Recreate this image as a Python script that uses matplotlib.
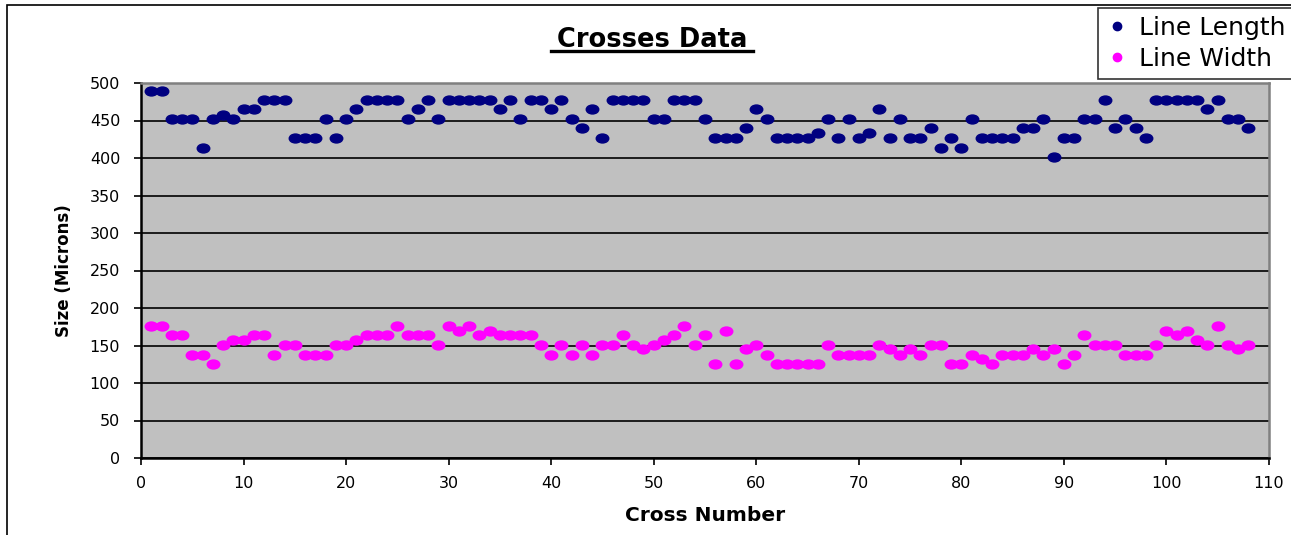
import matplotlib
matplotlib.use('Agg')
import matplotlib.pyplot as plt
from matplotlib.path import Path
from matplotlib.transforms import Affine2D
from matplotlib.patches import Rectangle

# Data
cross_number = list(range(1, 109))
line_length = [490, 490, 452, 452, 452, 414, 452, 458, 452, 465,
               465, 478, 478, 478, 427, 427, 427, 452, 427, 452,
               465, 478, 478, 478, 478, 452, 465, 478, 452, 478,
               478, 478, 478, 478, 465, 478, 452, 478, 478, 465,
               478, 452, 440, 465, 427, 478, 478, 478, 478, 452,
               452, 478, 478, 478, 452, 427, 427, 427, 440, 465,
               452, 427, 427, 427, 427, 433, 452, 427, 452, 427,
               433, 465, 427, 452, 427, 427, 440, 414, 427, 414,
               452, 427, 427, 427, 427, 440, 440, 452, 402, 427,
               427, 452, 452, 478, 440, 452, 440, 427, 478, 478,
               478, 478, 478, 465, 478, 452, 452, 440]
line_width = [176, 176, 164, 164, 138, 138, 126, 151, 157, 157,
              164, 164, 138, 151, 151, 138, 138, 138, 151, 151,
              157, 164, 164, 164, 176, 164, 164, 164, 151, 176,
              170, 176, 164, 170, 164, 164, 164, 164, 151, 138,
              151, 138, 151, 138, 151, 151, 164, 151, 145, 151,
              157, 164, 176, 151, 164, 126, 170, 126, 145, 151,
              138, 126, 126, 126, 126, 126, 151, 138, 138, 138,
              138, 151, 145, 138, 145, 138, 151, 151, 126, 126,
              138, 132, 126, 138, 138, 138, 145, 138, 145, 126,
              138, 164, 151, 151, 151, 138, 138, 138, 151, 170,
              164, 170, 157, 151, 176, 151, 145, 151]

plt.rcParams['font.family'] = ['DejaVu Sans']

W, H = 1291, 535
fig = plt.figure(figsize=(W / 100, H / 100), dpi=100)

# outer chart border (runs off the right and bottom edge)
fig.patches.append(Rectangle((7 / W, -0.1), 1.2, 1.1 - 5 / H, transform=fig.transFigure,
                             fill=False, edgecolor='black', linewidth=1.2))

ax = fig.add_axes([141 / W, 1 - 458 / H, (1269 - 141) / W, (458 - 83) / H])
ax.set_facecolor('#C0C0C0')

# wide ellipse marker like the Excel dots
ellipse = Affine2D().scale(1.4, 1.0).transform_path(Path.unit_circle())

ax.plot(cross_number, line_length, linestyle='none', marker=ellipse, markersize=9,
        color='#000080', label='Line Length', zorder=3)
ax.plot(cross_number, line_width, linestyle='none', marker=ellipse, markersize=9,
        color='#FF00FF', label='Line Width', zorder=3)

ax.set_xlim(0, 110)
ax.set_ylim(0, 500)
ax.set_xticks(range(0, 111, 10))
ax.set_yticks(range(0, 501, 50))
ax.grid(axis='y', color='black', linewidth=1.2)
ax.set_axisbelow(True)
ax.tick_params(direction='out', length=5, width=1.2, labelsize=11.5)
ax.tick_params(axis='y', pad=10)
ax.tick_params(axis='x', pad=8)

for s in ['left', 'bottom']:
    ax.spines[s].set_color('black')
    ax.spines[s].set_linewidth(1.8)
for s in ['top', 'right']:
    ax.spines[s].set_color('#808080')
    ax.spines[s].set_linewidth(1.8)

ax.set_xlabel('Cross Number', fontsize=14.5, fontweight='bold', labelpad=11)
ax.set_ylabel('Size (Microns)', fontsize=12, fontweight='bold', labelpad=12)

fig.text(652 / W, 1 - 47 / H, 'Crosses Data', fontsize=18.5, fontweight='bold',
         ha='center', va='baseline')
fig.add_artist(plt.Line2D([551 / W, 753 / W], [1 - 51 / H, 1 - 51 / H],
                          color='black', linewidth=2.4))

leg_handles = [plt.Line2D([], [], linestyle='none', marker='o', markersize=6, color='#000080'),
               plt.Line2D([], [], linestyle='none', marker='o', markersize=6, color='#FF00FF')]
leg = fig.legend(leg_handles, ['Line Length', 'Line Width'], loc='upper left',
                 bbox_to_anchor=(1098 / W, 1 - 8 / H), fontsize=18, frameon=True,
                 fancybox=False, edgecolor='black', handletextpad=0.45,
                 handlelength=0.9, borderpad=0.3, labelspacing=0.3, borderaxespad=0)
leg.get_frame().set_linewidth(1.2)

fig.savefig('out.png', dpi=100)
